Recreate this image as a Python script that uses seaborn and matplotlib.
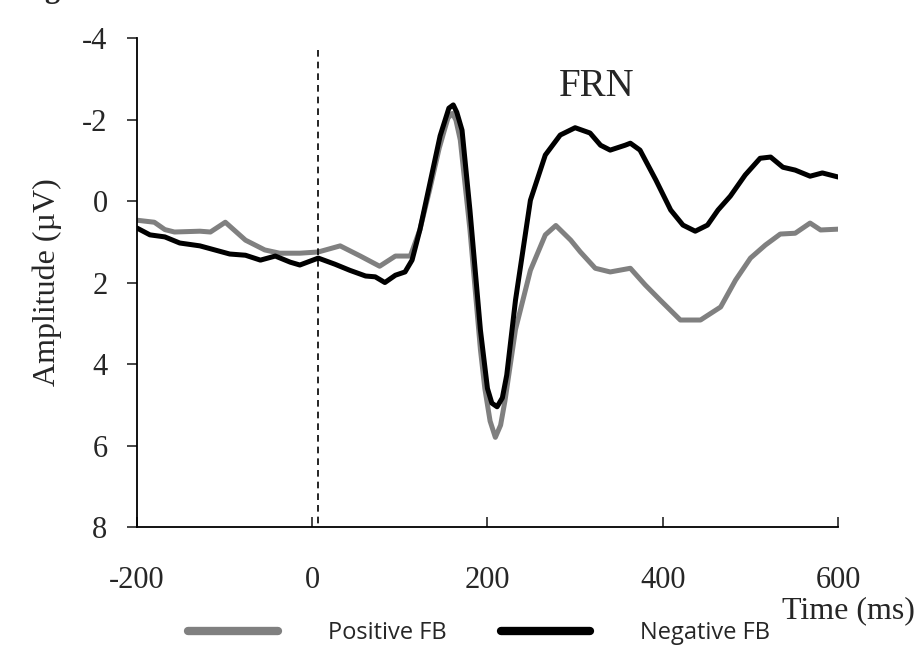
import numpy as np
import pandas as pd
import matplotlib.pyplot as plt
import seaborn as sns

# Lecture des courbes ERP (ms, µV), axe y inversé
pos_time = [-200, -180, -168, -157, -128, -116, -99, -76, -54, -37, -14, 7, 32, 55, 77, 95,
            112, 123, 134, 145, 151, 155, 160, 164, 169, 180, 192, 197, 203, 209, 215, 220, 232,
            249, 266, 278, 295, 306, 323, 340, 363, 380, 397, 420, 443, 466, 483, 500, 517,
            534, 551, 568, 580, 600]
pos_amp = [0.47, 0.52, 0.70, 0.76, 0.74, 0.76, 0.52, 0.96, 1.20, 1.28, 1.28, 1.25, 1.10, 1.35, 1.60, 1.35,
           1.35, 0.70, -0.27, -1.30, -1.75, -2.04, -2.15, -1.99, -1.50, 0.70, 3.65, 4.60, 5.40, 5.80, 5.50, 4.90, 3.15,
           1.70, 0.83, 0.60, 0.96, 1.25, 1.65, 1.74, 1.65, 2.06, 2.43, 2.92, 2.92, 2.60, 1.94, 1.40, 1.08,
           0.81, 0.79, 0.54, 0.71, 0.69]

neg_time = [-200, -185, -168, -151, -128, -111, -94, -76, -59, -42, -25, -14, 7, 26, 43, 61,
            72, 83, 95, 106, 114, 123, 134, 146, 156, 161, 165, 171, 180, 192, 200, 205, 211,
            217, 222, 232, 249, 266, 283, 300, 317, 329, 340, 357, 363, 374, 392, 409, 423,
            437, 451, 463, 477, 494, 511, 523, 537, 551, 568, 582, 600]
neg_amp = [0.66, 0.83, 0.88, 1.03, 1.10, 1.20, 1.30, 1.33, 1.45, 1.35, 1.50, 1.57, 1.40, 1.55, 1.70, 1.84,
           1.86, 2.00, 1.82, 1.74, 1.45, 0.70, -0.40, -1.60, -2.28, -2.36, -2.18, -1.74, 0.22, 3.17, 4.60, 4.96, 5.05,
           4.83, 4.27, 2.43, -0.02, -1.13, -1.62, -1.80, -1.67, -1.37, -1.25, -1.37, -1.42, -1.25, -0.52, 0.22, 0.59,
           0.74, 0.59, 0.22, -0.12, -0.64, -1.05, -1.08, -0.83, -0.76, -0.61, -0.69, -0.59]

x_ticks = [-200, 0, 200, 400, 600]
y_ticks = [-4, -2, 0, 2, 4, 6, 8]
onset = 7

data = pd.concat([
    pd.DataFrame({'time': pos_time, 'amp': pos_amp, 'cond': 'Positive FB'}),
    pd.DataFrame({'time': neg_time, 'amp': neg_amp, 'cond': 'Negative FB'}),
])

sns.set_style('white')
plt.rcParams['font.family'] = ['Liberation Serif', 'DejaVu Serif']
plt.rcParams['axes.unicode_minus'] = False

fig = plt.figure(figsize=(9.18, 6.51), dpi=100)
ax = fig.add_axes([0.149, 0.1905, 0.764, 0.751])

sns.lineplot(data=data, x='time', y='amp', hue='cond', estimator=None, sort=False,
             palette={'Positive FB': '#808080', 'Negative FB': 'black'},
             linewidth=3.6, ax=ax, legend=True)

ax.vlines(onset, -3.7, 8, colors='black', linestyles=(0, (4, 3)), linewidth=1.2)

ax.set_xlim(-200, 600)
ax.set_ylim(8, -4)
ax.set_xticks(x_ticks)
ax.set_yticks(y_ticks)
ax.set_xlabel('')
ax.set_ylabel('Amplitude (µV)', fontsize=23)
ax.yaxis.set_label_coords(-0.107, 0.5)
ax.tick_params(axis='y', direction='out', length=7, width=1.2, labelsize=22, pad=14, left=True)
ax.tick_params(axis='x', direction='in', length=7, width=1.2, labelsize=22, pad=28, bottom=True)
sns.despine(ax=ax)
for s in ['left', 'bottom']:
    ax.spines[s].set_linewidth(1.3)
    ax.spines[s].set_color('black')

ax.text(325, -2.8, 'FRN', fontsize=28, ha='center', va='center')
fig.text(0.924, 0.062, 'Time (ms)', fontsize=23, ha='center', va='center')
# reste du titre coupé en haut de l'image
fig.text(0.056, 1.005, 'g', fontsize=22, fontweight='bold', ha='center', va='baseline')

handles, labels = ax.get_legend_handles_labels()
ax.get_legend().remove()
leg = fig.legend(handles, labels, loc='center', bbox_to_anchor=(0.522, 0.028), ncol=2,
                 frameon=False, handlelength=3.8, handletextpad=2.1, columnspacing=2.3,
                 prop={'family': 'Open Sans', 'size': 17})
for line in leg.get_lines():
    line.set_linewidth(6)

fig.savefig('out.png', dpi=100)
